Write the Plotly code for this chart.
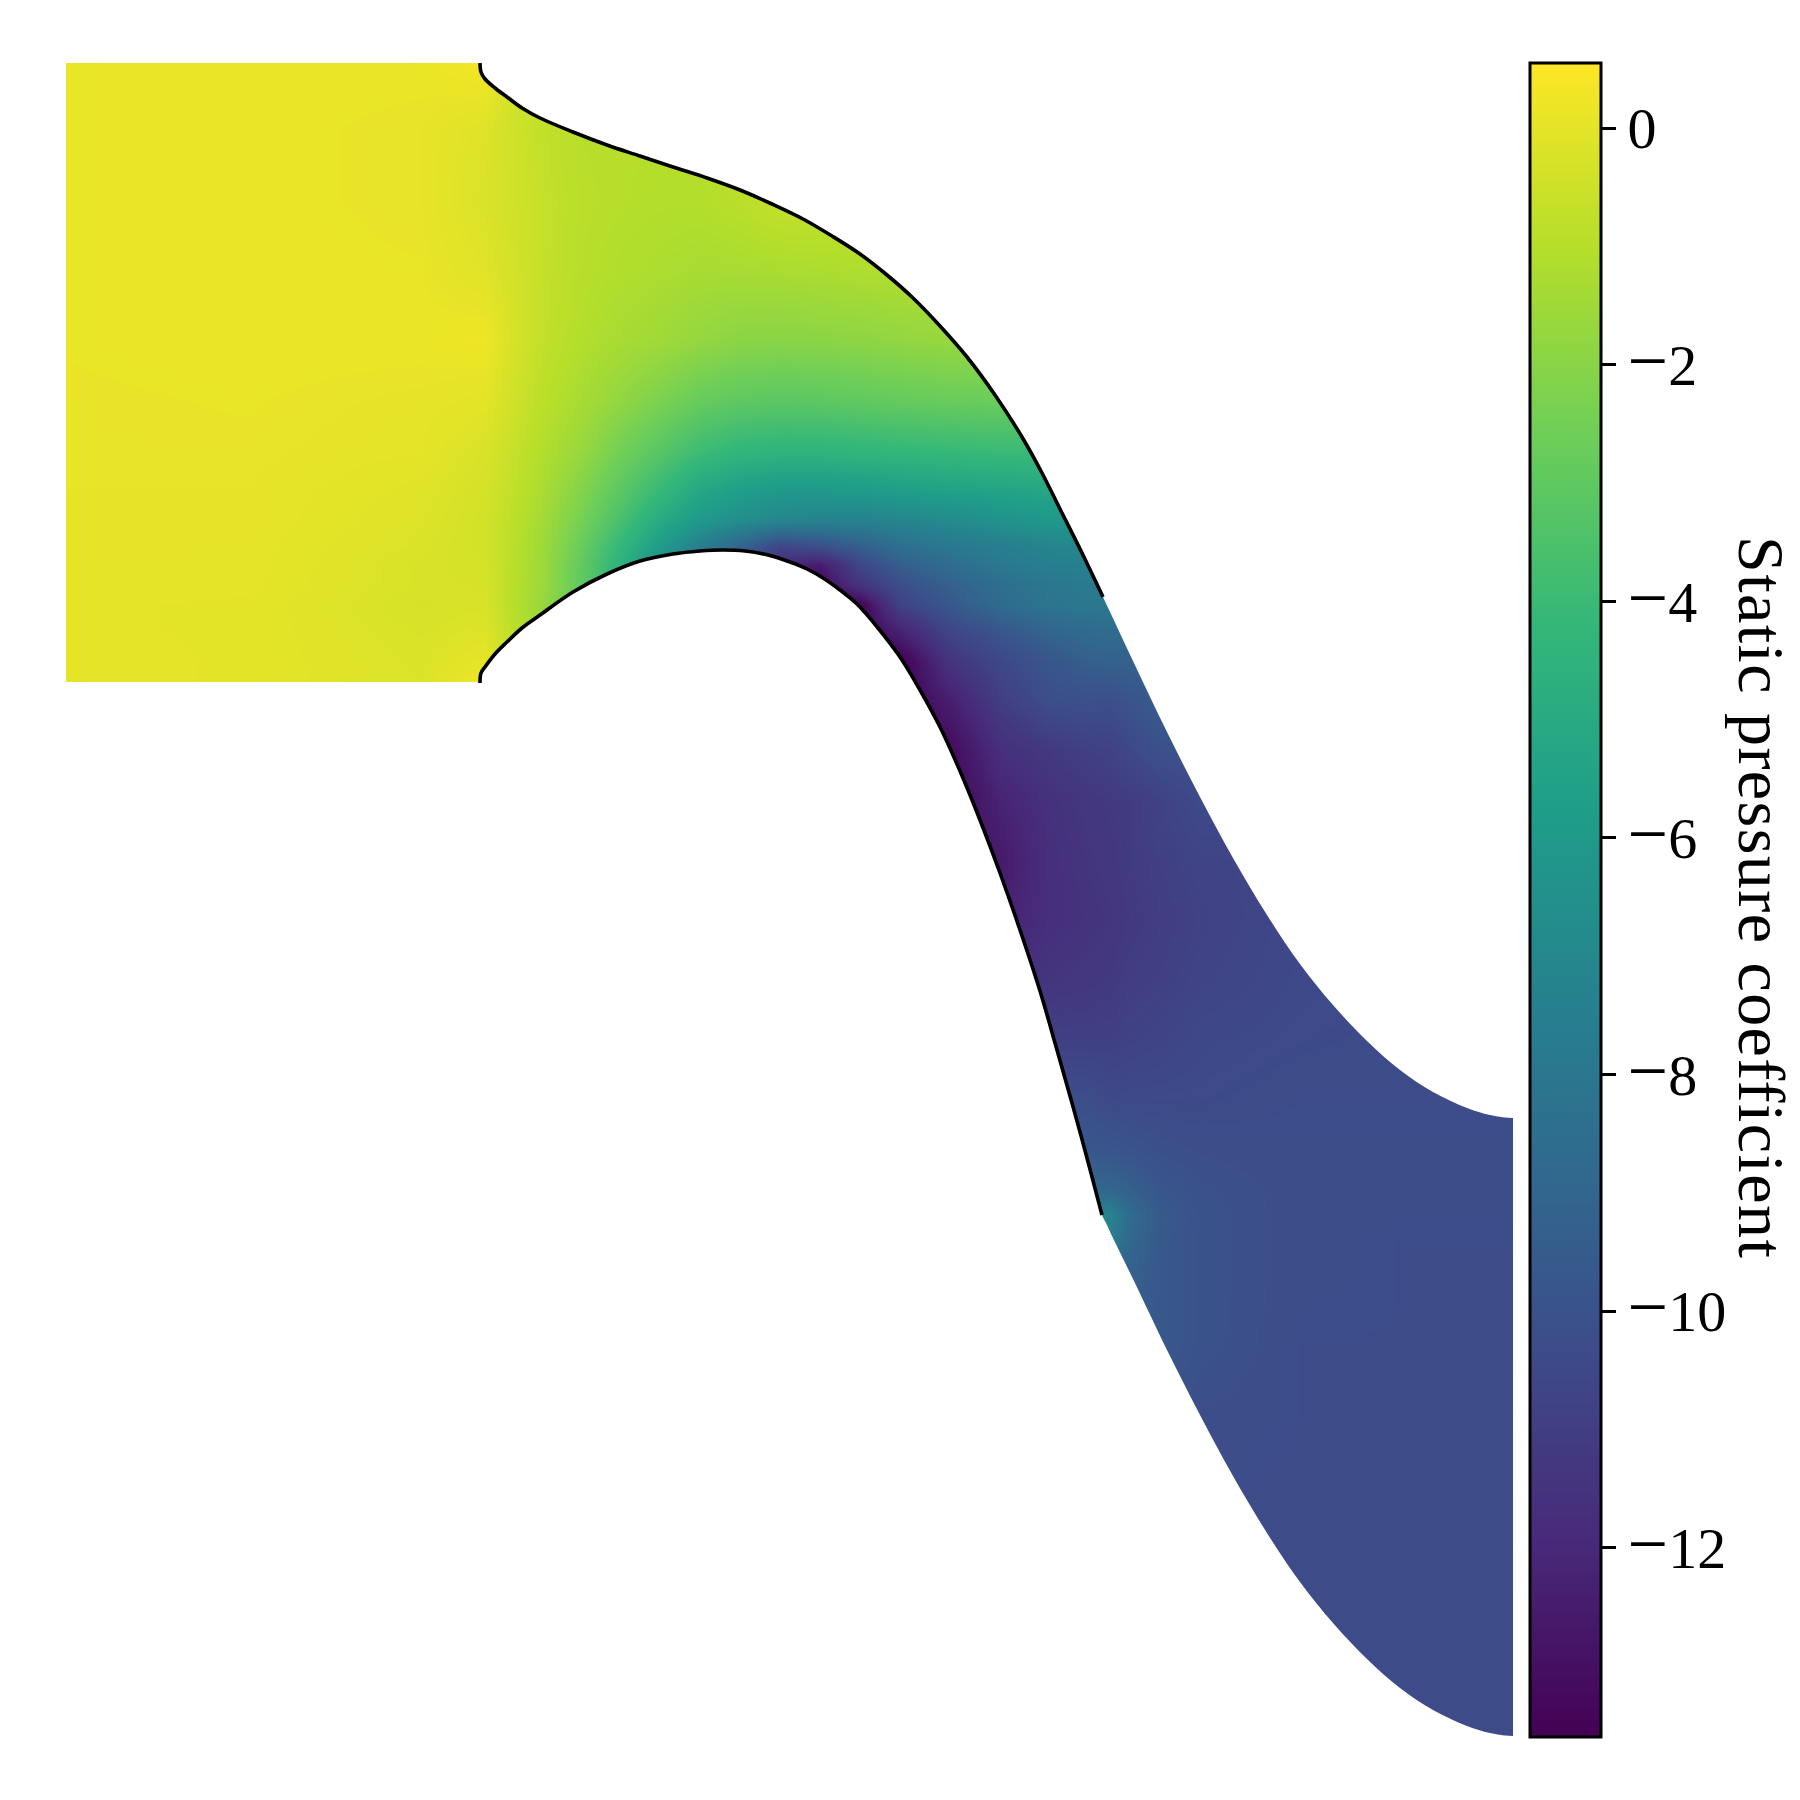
import plotly.graph_objects as go

# Duct geometry (drawing units, y grows downward)
x_upper_wall = [480,481,485,495,507,522,540,573,607,640,673,707,740,772,803,832,860,887,913,940,967,995,1022,1042,1060,1082,1103]
y_upper_wall = [63,72,79,88,97,108,118,132,145,156,167,178,190,204,219,236,254,275,298,326,357,395,437,473,509,553,597]
x_lower_wall = [480,481,485,495,507,522,540,573,607,640,673,700,723,745,768,790,807,823,840,857,878,900,920,940,960,980,1000,1020,1040,1057,1080,1102]
y_lower_wall = [683,673,667,654,642,628,615,592,574,561,554,551,550,551,555,562,569,578,590,604,628,657,690,727,771,820,873,930,991,1050,1132,1215]
x_upper_free = [1133,1167,1200,1233,1267,1300,1333,1367,1400,1433,1467,1490,1513]
y_upper_free = [661,732,797,858,915,964,1005,1041,1070,1092,1108,1115,1118]
x_lower_free = [1106,1112,1133,1167,1200,1233,1267,1300,1333,1367,1400,1433,1467,1490,1513]
y_lower_free = [1223,1236,1279,1350,1415,1476,1533,1582,1623,1659,1688,1710,1726,1733,1736]

# Static pressure coefficient, sampled on a table of stations
x_stations = [66,250,420,485,510,540,580,620,660,700,740,780,820,860,900,950,1000,1050,1090,1110,1130,1160,1200,1300,1400,1513]
y_stations = [63,130,200,270,340,400,450,490,520,545,565,585,605,630,660,700,750,800,860,920,980,1040,1100,1150,1190,1215,1240,1280,1340,1420,1520,1640,1737]
cp = [
[.12,.15,.15,.35,-.3,-.6,-.9,-1,-1,-1,-1,-.8,-.8,-.8,-.8,-.8,-.8,-.8,-.8,-.8,-.8,-.8,-.8,-.8,-.8,-.8],
[.12,.15,.08,-.15,-.42,-.72,-.95,-1,-1,-1,-.9,-.8,-.8,-.8,-.8,-.8,-.8,-.8,-.8,-.8,-.8,-.8,-.8,-.8,-.8,-.8],
[.12,.15,.08,-.22,-.42,-.65,-.9,-1,-1.05,-1.05,-.9,-.65,-.7,-.8,-.8,-.8,-.8,-.8,-.8,-.8,-.8,-.8,-.8,-.8,-.8,-.8],
[.12,.15,.12,-.1,-.34,-.65,-.95,-1.1,-1.2,-1.3,-1.3,-1.25,-1.2,-1.15,-1.1,-1.1,-1.1,-1.1,-1.1,-1.1,-1.1,-1.1,-1.1,-1.1,-1.1,-1.1],
[.12,.15,.15,.22,-.25,-.7,-1.05,-1.3,-1.5,-1.75,-1.95,-2,-1.95,-1.9,-1.8,-1.7,-1.7,-1.7,-1.7,-1.7,-1.7,-1.7,-1.7,-1.7,-1.7,-1.7],
[.1,.12,.06,-.02,-.4,-.85,-1.3,-1.8,-2.3,-2.8,-3,-3.1,-3.05,-2.95,-2.85,-2.75,-2.7,-2.7,-2.7,-2.7,-2.7,-2.7,-2.7,-2.7,-2.7,-2.7],
[.1,.1,.02,-.25,-.6,-1.05,-1.65,-2.5,-3.2,-3.9,-4.3,-4.4,-4.4,-4.3,-4.2,-4.1,-4,-4,-4,-4,-4,-4,-4,-4,-4,-4],
[.08,.08,-.1,-.35,-.7,-1.2,-2.1,-3.1,-4.1,-5.2,-5.7,-6,-6,-5.9,-5.7,-5.5,-5.4,-5.2,-5.2,-5.2,-5.2,-5.2,-5.2,-5.2,-5.2,-5.2],
[.08,.08,-.15,-.4,-.8,-1.35,-2.4,-3.6,-5,-6,-6.6,-7.1,-7.3,-7.3,-7.1,-6.8,-6.4,-6.1,-6.1,-6.1,-6.1,-6.1,-6.1,-6.1,-6.1,-6.1],
[.08,.05,-.2,-.4,-.85,-1.45,-2.7,-4.2,-5.8,-7.5,-9,-10.5,-10,-9.3,-8.4,-7.9,-7.5,-7.1,-7,-7,-7,-7,-7,-7,-7,-7],
[.05,.05,-.25,-.35,-.85,-1.5,-2.9,-4.5,-6.5,-8,-10,-12,-12.6,-10.6,-9.4,-8.6,-7.9,-7.5,-7.5,-7.5,-7.5,-7.5,-7.5,-7.5,-7.5,-7.5],
[.05,.03,-.25,-.3,-.9,-1.5,-2.9,-4.5,-6.5,-8,-10,-12,-13.2,-11.5,-10.2,-9.3,-8.5,-8,-7.8,-7.8,-7.8,-7.8,-7.8,-7.8,-7.8,-7.8],
[.03,0,-.3,-.25,-.9,-1.6,-3,-4.5,-6.5,-8,-10,-12,-13.5,-13.5,-10.8,-9.7,-8.7,-8.1,-7.9,-8,-8,-8,-8,-8,-8,-8],
[.03,0,-.25,-.15,-.8,-1.6,-3,-4.5,-6.5,-8,-10,-12,-13.5,-13.5,-12.2,-10.6,-9.8,-9,-8.7,-8.6,-8.8,-8.8,-8.8,-8.8,-8.8,-8.8],
[.05,0,-.2,.05,-.6,-1.6,-3,-4.5,-6.5,-8,-10,-12,-13.5,-13.6,-13.6,-11.4,-10.5,-9.8,-9.3,-9.2,-9.2,-9.2,-9.2,-9.2,-9.2,-9.2],
[.05,0,-.15,.4,.2,-1.6,-3,-4.5,-6.5,-8,-10,-12,-13.5,-13.6,-13.6,-12.4,-11,-10.2,-10.1,-10.2,-9.9,-9.5,-9.5,-9.5,-9.5,-9.5],
[-10,-10,-10,-10,-10,-10,-10,-10,-10,-10,-10,-12,-13.5,-13.6,-13.6,-13.2,-11.7,-11.2,-10.9,-10.8,-10.5,-10.1,-9.9,-9.9,-9.9,-9.9],
[-10,-10,-10,-10,-10,-10,-10,-10,-10,-10,-10,-12,-13.5,-13.6,-13.6,-13.4,-12.2,-11.6,-11.3,-11.2,-11.1,-10.8,-10.4,-10.4,-10.4,-10.4],
[-10,-10,-10,-10,-10,-10,-10,-10,-10,-10,-10,-12,-13,-13,-13,-13,-12.6,-11.7,-11.4,-11.3,-11.1,-10.9,-10.7,-10.6,-10.6,-10.6],
[-10,-10,-10,-10,-10,-10,-10,-10,-10,-10,-10,-12,-12.5,-12.5,-12.5,-12.5,-12.3,-11.7,-11.5,-11.4,-11.2,-11,-10.8,-10.5,-10.5,-10.5],
[-10,-10,-10,-10,-10,-10,-10,-10,-10,-10,-10,-11,-11.8,-11.8,-11.8,-11.8,-11.8,-11.4,-11.3,-11.2,-11,-10.9,-10.7,-10.45,-10.4,-10.4],
[-10,-10,-10,-10,-10,-10,-10,-10,-10,-10,-10,-11,-11,-11,-11,-11,-11,-10.9,-10.9,-10.9,-10.8,-10.7,-10.5,-10.4,-10.35,-10.3],
[-10,-10,-10,-10,-10,-10,-10,-10,-10,-10,-10,-10,-10.2,-10.2,-10.2,-10.2,-10.2,-10.2,-10.2,-10.45,-10.4,-10.4,-10.4,-10.3,-10.3,-10.3],
[-10,-10,-10,-10,-10,-10,-10,-10,-10,-10,-10,-10,-9.8,-9.8,-9.8,-9.8,-9.8,-9.8,-9.8,-9.8,-9.95,-10.1,-10.2,-10.25,-10.25,-10.25],
[-10,-10,-10,-10,-10,-10,-10,-10,-10,-10,-10,-10,-8.8,-8.8,-8.8,-8.8,-8.8,-8.8,-8.8,-9,-9.3,-9.8,-10.05,-10.25,-10.25,-10.25],
[-10,-10,-10,-10,-10,-10,-10,-10,-10,-10,-10,-10,-7.2,-7.2,-7.2,-7.2,-7.2,-7.2,-7.2,-7.2,-8.7,-9.6,-10,-10.25,-10.25,-10.25],
[-10,-10,-10,-10,-10,-10,-10,-10,-10,-10,-10,-10,-7.5,-7.5,-7.5,-7.5,-7.5,-7.5,-7.5,-7.6,-8.9,-9.7,-10,-10.25,-10.3,-10.3],
[-10,-10,-10,-10,-10,-10,-10,-10,-10,-10,-10,-10,-9.3,-9.3,-9.3,-9.3,-9.3,-9.3,-9.3,-9.3,-9.3,-9.7,-10,-10.25,-10.3,-10.3],
[-10,-10,-10,-10,-10,-10,-10,-10,-10,-10,-10,-10,-9.7,-9.7,-9.7,-9.7,-9.7,-9.7,-9.7,-9.7,-9.7,-9.7,-10,-10.3,-10.3,-10.3],
[-10,-10,-10,-10,-10,-10,-10,-10,-10,-10,-10,-10,-10,-10,-10,-10,-10,-10,-10,-10,-10,-10,-10.2,-10.3,-10.35,-10.3],
[-10,-10,-10,-10,-10,-10,-10,-10,-10,-10,-10,-10,-10,-10,-10,-10,-10,-10,-10,-10,-10,-10,-10.3,-10.35,-10.35,-10.3],
[-10,-10,-10,-10,-10,-10,-10,-10,-10,-10,-10,-10,-10,-10,-10,-10,-10,-10,-10,-10,-10,-10,-10.3,-10.35,-10.35,-10.3],
[-10,-10,-10,-10,-10,-10,-10,-10,-10,-10,-10,-10,-10,-10,-10,-10,-10,-10,-10,-10,-10,-10,-10.3,-10.35,-10.35,-10.3],
]
cp_min, cp_max = -13.6, 0.55
tick_values = [0,-2,-4,-6,-8,-10,-12]
minus = '<span style="font-size:72px">\u2212</span>'
tick_labels = ["0", minus+"2", minus+"4", minus+"6", minus+"8", minus+"10", minus+"12"]
colorbar_title = "Static pressure coefficient"
x_range = [66, 1513]
y_range = [1737, 63]
inlet_lower_y = 682
far = 1900   # off-plot extension, so the smoothing of the mask corners stays outside the axes

fig = go.Figure()
fig.add_trace(go.Heatmap(
    x=x_stations, y=y_stations, z=cp, zsmooth="best", zmin=cp_min, zmax=cp_max,
    colorscale="Viridis", hoverinfo="skip",
    colorbar=dict(
        x=(1530-66)/1447, xanchor="left", y=0.5, yanchor="middle", len=1, lenmode="fraction",
        thickness=71, thicknessmode="pixels", xpad=0, ypad=0,
        outlinecolor="black", outlinewidth=3,
        tickmode="array", tickvals=tick_values, ticktext=tick_labels,
        ticks="outside", ticklen=14, tickwidth=3, tickcolor="black",
        tickfont=dict(family="Liberation Serif", size=58, color="black"),
    ),
))
mask = dict(mode="lines", fill="toself", fillcolor="white", line=dict(width=0, color="white", shape="spline"),
            hoverinfo="skip", showlegend=False)
fig.add_trace(go.Scatter(
    x=[x_upper_wall[0]] + x_upper_wall + x_upper_free + [far, far],
    y=[-200] + y_upper_wall + y_upper_free + [y_upper_free[-1], -200], **mask))
fig.add_trace(go.Scatter(
    x=[x_lower_wall[0], x_lower_wall[0]] + x_lower_wall + x_lower_free + [far, far],
    y=[far, y_lower_wall[0] + 7] + y_lower_wall + y_lower_free + [y_lower_free[-1], far], **mask))
fig.add_trace(go.Scatter(
    x=[x_range[0], x_lower_wall[0], x_lower_wall[0], x_range[0]],
    y=[inlet_lower_y, inlet_lower_y, y_range[0], y_range[0]],
    mode="lines", fill="toself", fillcolor="white", line=dict(width=0), hoverinfo="skip", showlegend=False))
for xs, ys in ((x_upper_wall, y_upper_wall), (x_lower_wall, y_lower_wall)):
    fig.add_trace(go.Scatter(x=xs, y=ys, mode="lines", cliponaxis=False,
                             line=dict(color="black", width=3.6, shape="spline"),
                             hoverinfo="skip", showlegend=False))
fig.add_annotation(text='<span style="letter-spacing:1.45px">' + colorbar_title + '</span>',
                   textangle=90, xref="paper", yref="paper",
                   x=(1762-66)/1447, y=(1737-897)/1674, xanchor="center", yanchor="middle",
                   showarrow=False, font=dict(family="Liberation Serif", size=66, color="black"))
fig.update_layout(
    width=1800, height=1800, paper_bgcolor="white", plot_bgcolor="white", showlegend=False,
    margin=dict(l=66, r=287, t=63, b=63, autoexpand=False),
    xaxis=dict(range=x_range, visible=False, showgrid=False, zeroline=False),
    yaxis=dict(range=y_range, visible=False, showgrid=False, zeroline=False),
)
fig.write_html("out.html", config={"displayModeBar": False},
               post_script="document.body.style.margin='0';")
